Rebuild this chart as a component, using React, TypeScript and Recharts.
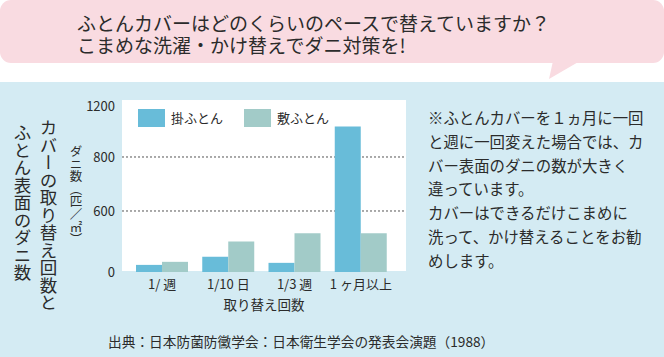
import React from 'react';
import { BarChart, Bar, XAxis, YAxis, CartesianGrid, Legend } from 'recharts';

// ---- data ----
const categories = ['1/ 週', '1/10 日', '1/3 週', '1 ヶ月以上'];
const kakeFuton = [70, 150, 90, 1040];
const shikiFuton = [100, 300, 380, 380];
const seriesNames = ['掛ふとん', '敷ふとん'];
const yTicks = [0, 600, 800, 1200];
const gridValues = [600, 800];

const titleLines = ['ふとんカバーはどのくらいのペースで替えていますか？', 'こまめな洗濯・かけ替えでダニ対策を!'];
const sideTitleCols = ['カバーの取り替え回数と', 'ふとん表面のダニ数'];
const yAxisTitle = 'ダニ数（匹／㎡）';
const xAxisTitle = '取り替え回数';
const noteLines = [
  '※ふとんカバーを１ヵ月に一回',
  'と週に一回変えた場合では、カ',
  'バー表面のダニの数が大きく',
  '違っています。',
  'カバーはできるだけこまめに',
  '洗って、かけ替えることをお勧',
  'めします。',
];
const sourceText = '出典：日本防菌防黴学会：日本衛生学会の発表会演題（1988）';

// ---- styles ----
const COLORS = ['#68bcd9', '#a2cbc8'];
const FONT = '"Noto Sans CJK JP", "Noto Sans", sans-serif';
const TEXT = '#2b2b2b';
// relative positions of the (non-uniform) tick stops along the axis
const AXIS_FRACTIONS = [0, 0.3675, 0.6928, 1];

const chartData = categories.map((c, i) => ({
  name: c,
  kake: kakeFuton[i],
  shiki: shikiFuton[i],
}));

function piecewiseScale(stops: number[], fracs: number[]): any {
  let dom = [stops[0], stops[stops.length - 1]];
  let rng = [0, 1];
  const toFrac = (v: number) => {
    let k = 0;
    while (k < stops.length - 2 && v > stops[k + 1]) k++;
    const t = (v - stops[k]) / (stops[k + 1] - stops[k]);
    return fracs[k] + t * (fracs[k + 1] - fracs[k]);
  };
  const scale: any = (v: number) => rng[0] + toFrac(Number(v)) * (rng[1] - rng[0]);
  scale.domain = (d?: number[]) => {
    if (d === undefined) return dom.slice();
    dom = d.slice();
    return scale;
  };
  scale.range = (r?: number[]) => {
    if (r === undefined) return rng.slice();
    rng = r.slice();
    return scale;
  };
  scale.copy = () => piecewiseScale(stops, fracs).domain(dom).range(rng);
  scale.ticks = () => stops.slice();
  scale.tickFormat = () => (v: number) => String(v);
  return scale;
}

const yScale = piecewiseScale(yTicks, AXIS_FRACTIONS);

const LegendContent = (props: any) => {
  const payload = props.payload || [];
  return (
    <div style={{ display: 'flex', alignItems: 'center', fontFamily: FONT }}>
      {payload.map((p: any, i: number) => (
        <div key={i} style={{ display: 'flex', alignItems: 'center', marginRight: 21 }}>
          <div style={{ width: 27, height: 18, background: p.color, marginRight: 6 }} />
          <span style={{ fontSize: 13, color: TEXT, lineHeight: '18px' }}>{p.value}</span>
        </div>
      ))}
    </div>
  );
};

const YTitle = (props: any) => {
  const vb = props.viewBox || {};
  return (
    <text
      x={vb.x - 6}
      y={vb.y + vb.height / 2 + 6}
      textAnchor="middle"
      fontSize={12.5}
      fill={TEXT}
      style={{ writingMode: 'vertical-rl' as any }}
    >
      {props.value}
    </text>
  );
};

export default function App() {
  return (
    <div
      style={{
        position: 'absolute',
        left: 0,
        top: 0,
        width: 664,
        height: 357,
        overflow: 'hidden',
        background: '#ffffff',
        fontFamily: FONT,
        color: TEXT,
      }}
    >
      {/* speech bubble */}
      <svg width={664} height={85} style={{ position: 'absolute', left: 0, top: 0 }}>
        <rect x={0} y={0} width={664} height={63} rx={11} ry={11} fill="#f9dbe1" />
        <polygon points="553,61 549,79 580,61" fill="#f9dbe1" />
      </svg>
      <div style={{ position: 'absolute', left: 77, top: 12, fontSize: 19, lineHeight: '22px', whiteSpace: 'nowrap' }}>
        {titleLines.map((l, i) => (
          <div key={i}>{l}</div>
        ))}
      </div>

      {/* blue panel */}
      <div style={{ position: 'absolute', left: 0, top: 82, width: 664, height: 275, background: '#d4ebf3' }} />

      {/* side title (vertical) */}
      <div
        style={{
          position: 'absolute',
          left: 38,
          top: 119,
          writingMode: 'vertical-rl',
          fontSize: 17.5,
          lineHeight: '20px',
          whiteSpace: 'nowrap',
        }}
      >
        {sideTitleCols[0]}
      </div>
      <div
        style={{
          position: 'absolute',
          left: 12,
          top: 124,
          writingMode: 'vertical-rl',
          fontSize: 17.5,
          lineHeight: '20px',
          whiteSpace: 'nowrap',
        }}
      >
        {sideTitleCols[1]}
      </div>

      {/* plot background */}
      <div style={{ position: 'absolute', left: 122, top: 100, width: 284, height: 171, background: '#ffffff' }} />

      <div style={{ position: 'absolute', left: 0, top: 0 }}>
        <BarChart
          width={664}
          height={357}
          data={chartData}
          margin={{ top: 106, right: 258, bottom: 45, left: 82 }}
          barSize={26}
          barGap={0}
        >
          <CartesianGrid
            vertical={false}
            horizontalValues={gridValues}
            stroke="#555"
            strokeDasharray="2 2"
          />
          <XAxis
            dataKey="name"
            axisLine={false}
            tickLine={false}
            height={40}
            padding={{ left: 7, right: 12 }}
            tick={{ fontSize: 13, fill: TEXT }}
            label={{ value: xAxisTitle, position: 'insideBottom', offset: 2, fontSize: 13.5, fill: TEXT }}
          />
          <YAxis
            type="number"
            scale={yScale}
            domain={[0, 1200]}
            ticks={yTicks}
            interval={0}
            width={40}
            axisLine={false}
            tickLine={false}
            tickMargin={1}
            tick={{ fontSize: 13, fill: TEXT }}
            label={{ value: yAxisTitle, content: (p: any) => <YTitle {...p} value={yAxisTitle} /> }}
          />
          <Legend
            layout="horizontal"
            verticalAlign="middle"
            align="center"
            content={<LegendContent />}
            wrapperStyle={{ left: 138, top: 109, width: 300, height: 18 }}
          />
          <Bar dataKey="kake" name={seriesNames[0]} fill={COLORS[0]} isAnimationActive={false} />
          <Bar dataKey="shiki" name={seriesNames[1]} fill={COLORS[1]} isAnimationActive={false} />
        </BarChart>
      </div>

      {/* note text */}
      <div style={{ position: 'absolute', left: 428, top: 106, fontSize: 15.4, lineHeight: '23.8px', whiteSpace: 'nowrap' }}>
        {noteLines.map((l, i) => (
          <div key={i}>{l}</div>
        ))}
      </div>

      {/* source */}
      <div style={{ position: 'absolute', left: 108, top: 332, fontSize: 13.7, lineHeight: '18px', whiteSpace: 'nowrap' }}>
        {sourceText}
      </div>
    </div>
  );
}
